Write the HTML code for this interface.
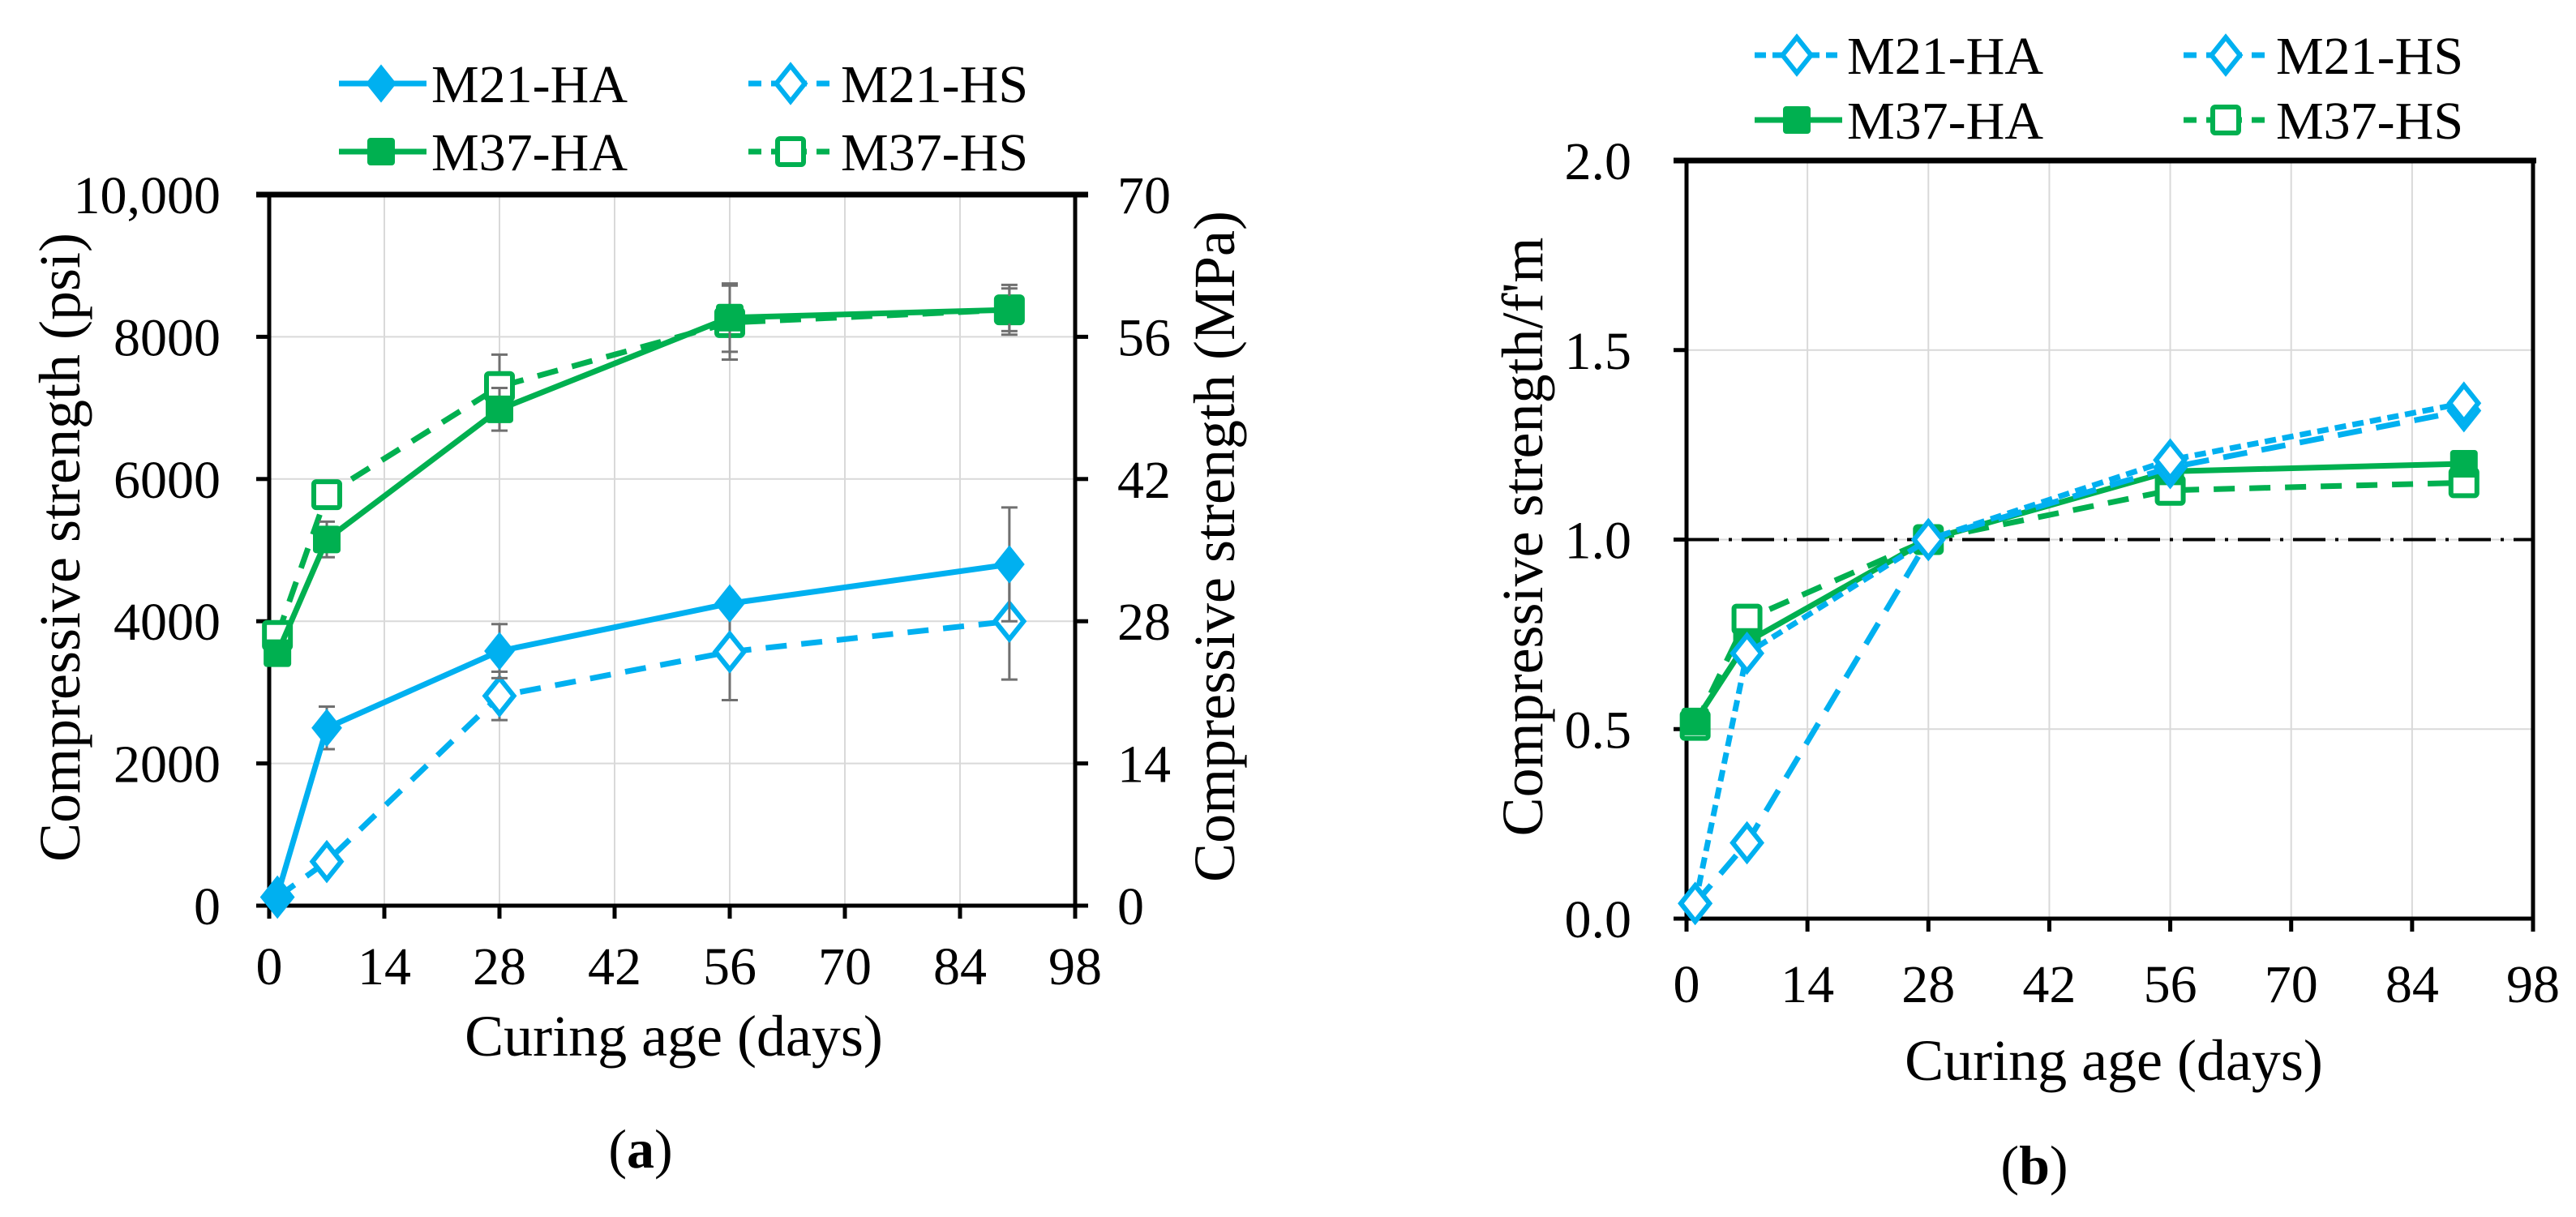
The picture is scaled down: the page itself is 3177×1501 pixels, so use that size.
<!DOCTYPE html>
<html><head><meta charset="utf-8"><style>
html,body{margin:0;padding:0;background:#fff;}
svg{display:block;font-family:"Liberation Serif",serif;}
</style></head><body>
<svg id="fig" width="3177" height="1501" viewBox="0 0 3177 1501" xmlns="http://www.w3.org/2000/svg"></svg>
<script>
const days = [1, 7, 28, 56, 90];
const xTicks = [0, 14, 28, 42, 56, 70, 84, 98];
const psiTicks = ["0", "2000", "4000", "6000", "8000", "10,000"];
const psiTickVals = [0, 2000, 4000, 6000, 8000, 10000];
const mpaTicks = [0, 14, 28, 42, 56, 70];
const ratioTicks = [0, 0.5, 1.0, 1.5, 2.0];

const m21haPsi = [150, 2500, 3580, 4250, 4800];
const m21hsPsi = [120, 620, 2950, 3570, 4000];
const m37haPsi = [3550, 5150, 6980, 8270, 8380];
const m37hsPsi = [3800, 5780, 7300, 8200, 8380];
const m21haErr = [0, 300, 380, 0, 800];
const m21hsErr = [0, 60, 340, 680, 820];
const m37haErr = [0, 250, 300, 480, 350];
const m37hsErr = [0, 0, 450, 520, 300];

const m21haRatio = [0.04, 0.70, 1.0, 1.21, 1.36];
const m21hsRatio = [0.04, 0.20, 1.0, 1.19, 1.34];
const m37haRatio = [0.52, 0.73, 1.0, 1.18, 1.20];
const m37hsRatio = [0.51, 0.79, 1.0, 1.13, 1.15];
const refLine = [1.0];

const NS = "http://www.w3.org/2000/svg";
const svg = document.getElementById('fig');
const BLUE = "#00b0f0", GREEN = "#00b050";
const TF = 66, TITLEF = 72;
function mk(tag, attrs, parent, text){
  const e = document.createElementNS(NS, tag);
  for (const k in attrs) e.setAttribute(k, attrs[k]);
  if (text !== undefined) e.textContent = text;
  (parent || svg).appendChild(e);
  return e;
}
function marker(g, shape, filled, color, cx, cy){
  if (shape === 'diamond') {
    const r = 22;
    return mk('polygon', {points:`${cx},${cy-r} ${cx+r*0.8},${cy} ${cx},${cy+r} ${cx-r*0.8},${cy}`, fill: filled?color:'#fff', stroke: color, 'stroke-width': filled?2:6}, g);
  } else {
    const s = 32;
    return mk('rect', {x:cx-s/2, y:cy-s/2, width:s, height:s, rx:3, fill: filled?color:'#fff', stroke: color, 'stroke-width': filled?2:6}, g);
  }
}

// ---------- Chart (a) ----------
const A = {x0:332, x1:1326, y0:1117, y1:240};
const axA = d => A.x0 + (d/98)*(A.x1-A.x0);
const ayA = v => A.y0 - (v/10000)*(A.y0-A.y1);
const ayM = v => A.y0 - (v/70)*(A.y0-A.y1);
const gA = mk('g', { });
xTicks.forEach((t,i)=>{ if(i>0 && i<xTicks.length-1){ const l=mk('line',{x1:axA(t),x2:axA(t),y1:A.y1,y2:A.y0,stroke:'#d9d9d9','stroke-width':2},gA);   }});
psiTickVals.forEach((t,i)=>{ if(i>0 && i<psiTickVals.length-1){ const l=mk('line',{x1:A.x0,x2:A.x1,y1:ayA(t),y2:ayA(t),stroke:'#d9d9d9','stroke-width':2},gA);   }});
mk('rect',{x:A.x0,y:A.y1,width:A.x1-A.x0,height:A.y0-A.y1,fill:'none',stroke:'#000','stroke-width':5,},gA);
mk('line',{x1:A.x0-16,x2:A.x1+16,y1:A.y1,y2:A.y1,stroke:'#000','stroke-width':7},gA);
xTicks.forEach(t=>{
  mk('line',{x1:axA(t),x2:axA(t),y1:A.y0,y2:A.y0+16,stroke:'#000','stroke-width':5},gA);
  const tx=mk('text',{x:axA(t),y:1214,'font-size':TF,'text-anchor':'middle'},gA,String(t));
   
});
psiTickVals.forEach((t,i)=>{
  mk('line',{x1:A.x0-16,x2:A.x0,y1:ayA(t),y2:ayA(t),stroke:'#000','stroke-width':5},gA);
  const tx=mk('text',{x:272,y:ayA(t)+23,'font-size':TF,'text-anchor':'end'},gA,psiTicks[i]);
   
});
mpaTicks.forEach(t=>{
  mk('line',{x1:A.x1,x2:A.x1+16,y1:ayM(t),y2:ayM(t),stroke:'#000','stroke-width':5},gA);
  const tx=mk('text',{x:1378,y:ayM(t)+23,'font-size':TF,'text-anchor':'start'},gA,String(t));
   
});
mk('text',{x:831,y:1302,'font-size':TITLEF,'text-anchor':'middle',},gA,'Curing age (days)');
mk('text',{x:0,y:0,'font-size':TITLEF,'text-anchor':'middle',transform:'translate(98,675) rotate(-90)',},gA,'Compressive strength (psi)');
mk('text',{x:0,y:0,'font-size':TITLEF,'text-anchor':'middle',transform:'translate(1522,674) rotate(-90)',},gA,'Compressive strength (MPa)');
mk('text',{x:790,y:1440,'font-size':68,'text-anchor':'middle',},gA,'(a)').innerHTML='(<tspan font-weight="bold">a</tspan>)';

function drawSeries(g, ax, ay, vals, errs, color, dash, shape, filled, name){
  const sg = mk('g',{},g);
  
  
  if (errs) vals.forEach((v,i)=>{ if(errs[i]>0){
    const x=ax(days[i]);
    mk('line',{x1:x,x2:x,y1:ay(v-errs[i]),y2:ay(v+errs[i]),stroke:'#707070','stroke-width':3},sg);
    mk('line',{x1:x-10,x2:x+10,y1:ay(v-errs[i]),y2:ay(v-errs[i]),stroke:'#707070','stroke-width':3},sg);
    mk('line',{x1:x-10,x2:x+10,y1:ay(v+errs[i]),y2:ay(v+errs[i]),stroke:'#707070','stroke-width':3},sg);
  }});
  const pts = vals.map((v,i)=>ax(days[i])+','+ay(v)).join(' ');
  const pl = mk('polyline',{points:pts,fill:'none',stroke:color,'stroke-width':7,'stroke-dasharray':dash||'none','stroke-linejoin':'round'},sg);
  
  
  vals.forEach((v,i)=>{
    const m = marker(sg, shape, filled, color, ax(days[i]), ay(v));
    
    
  });
}
drawSeries(gA, axA, ayA, m37hsPsi, m37hsErr, GREEN, '26,18', 'square', false, 'series-m37-hs');
drawSeries(gA, axA, ayA, m37haPsi, m37haErr, GREEN, null, 'square', true, 'series-m37-ha');
drawSeries(gA, axA, ayA, m21hsPsi, m21hsErr, BLUE, '26,18', 'diamond', false, 'series-m21-hs');
drawSeries(gA, axA, ayA, m21haPsi, m21haErr, BLUE, null, 'diamond', true, 'series-m21-ha');

function legendEntry(g, x, y, color, dash, shape, filled, label, name){
  const lg = mk('g',{},g);
  
  
  mk('line',{x1:x-52,x2:x+56,y1:y,y2:y,stroke:color,'stroke-width':7,'stroke-dasharray':dash||'none'},lg);
  marker(lg, shape, filled, color, x, y);
  mk('text',{x:x+62,y:y+23,'font-size':66},lg,label);
}
legendEntry(gA, 470, 103, BLUE, null, 'diamond', true, 'M21-HA', 'legend-m21-ha');
legendEntry(gA, 975, 103, BLUE, '16,12', 'diamond', false, 'M21-HS', 'legend-m21-hs');
legendEntry(gA, 470, 187, GREEN, null, 'square', true, 'M37-HA', 'legend-m37-ha');
legendEntry(gA, 975, 187, GREEN, '16,12', 'square', false, 'M37-HS', 'legend-m37-hs');

// ---------- Chart (b) ----------
const B = {x0:2080, x1:3124, y0:1133, y1:198};
const axB = d => B.x0 + (d/98)*(B.x1-B.x0);
const ayB = v => B.y0 - (v/2)*(B.y0-B.y1);
const gB = mk('g', { });
xTicks.forEach((t,i)=>{ if(i>0 && i<xTicks.length-1){ const l=mk('line',{x1:axB(t),x2:axB(t),y1:B.y1,y2:B.y0,stroke:'#d9d9d9','stroke-width':2},gB);   }});
ratioTicks.forEach((t,i)=>{ if(i>0 && i<ratioTicks.length-1){ const l=mk('line',{x1:B.x0,x2:B.x1,y1:ayB(t),y2:ayB(t),stroke:'#d9d9d9','stroke-width':2},gB);   }});
mk('rect',{x:B.x0,y:B.y1,width:B.x1-B.x0,height:B.y0-B.y1,fill:'none',stroke:'#000','stroke-width':5,},gB);
mk('line',{x1:B.x0-16,x2:B.x1+4,y1:B.y1,y2:B.y1,stroke:'#000','stroke-width':7},gB);
xTicks.forEach(t=>{
  mk('line',{x1:axB(t),x2:axB(t),y1:B.y0,y2:B.y0+16,stroke:'#000','stroke-width':5},gB);
  const tx=mk('text',{x:axB(t),y:1236,'font-size':TF,'text-anchor':'middle'},gB,String(t));
   
});
ratioTicks.forEach(t=>{
  mk('line',{x1:B.x0-16,x2:B.x0,y1:ayB(t),y2:ayB(t),stroke:'#000','stroke-width':5},gB);
  const tx=mk('text',{x:2012,y:ayB(t)+23,'font-size':TF,'text-anchor':'end'},gB,t.toFixed(1));
   
});
const ref = mk('line',{x1:B.x0,x2:B.x1,y1:ayB(refLine[0]),y2:ayB(refLine[0]),stroke:'#000','stroke-width':4,'stroke-dasharray':'40,12,4,12'},gB);
 
mk('text',{x:2607,y:1332,'font-size':TITLEF,'text-anchor':'middle',},gB,'Curing age (days)');
mk('text',{x:0,y:0,'font-size':TITLEF,'text-anchor':'middle',transform:'translate(1902,662) rotate(-90)',},gB,"Compressive strength/f'm");
mk('text',{x:2509,y:1460,'font-size':68,'text-anchor':'middle',},gB,'(b)').innerHTML='(<tspan font-weight="bold">b</tspan>)';

drawSeries(gB, axB, ayB, m37hsRatio, null, GREEN, '26,18', 'square', false, 'series-m37-hs-ratio');
drawSeries(gB, axB, ayB, m37haRatio, null, GREEN, null, 'square', true, 'series-m37-ha-ratio');
drawSeries(gB, axB, ayB, m21hsRatio, null, BLUE, '30,18', 'diamond', false, 'series-m21-hs-ratio');
drawSeries(gB, axB, ayB, m21haRatio, null, BLUE, '14,8', 'diamond', false, 'series-m21-ha-ratio');

legendEntry(gB, 2216, 68, BLUE, '14,8', 'diamond', false, 'M21-HA', 'legend-m21-ha-b');
legendEntry(gB, 2745, 68, BLUE, '16,12', 'diamond', false, 'M21-HS', 'legend-m21-hs-b');
legendEntry(gB, 2216, 148, GREEN, null, 'square', true, 'M37-HA', 'legend-m37-ha-b');
legendEntry(gB, 2745, 148, GREEN, '16,12', 'square', false, 'M37-HS', 'legend-m37-hs-b');
</script>
</body></html>
